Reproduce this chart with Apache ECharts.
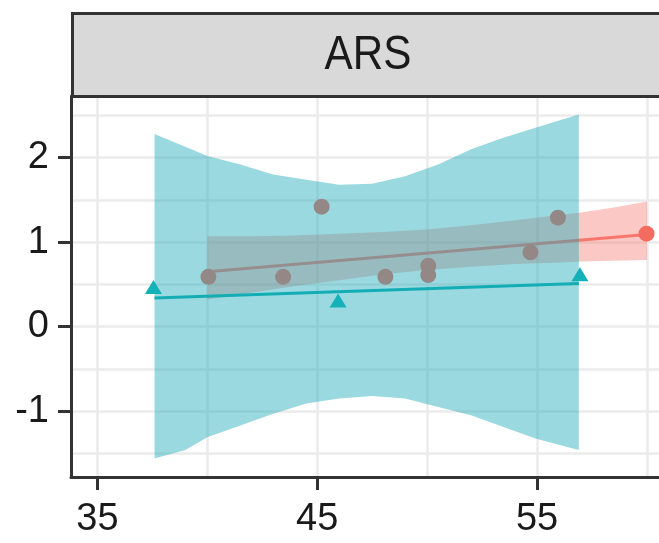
<!DOCTYPE html>
<html>
<head>
<meta charset="utf-8">
<script src="https://cdn.jsdelivr.net/npm/echarts@6/dist/echarts.min.js"></script>
<style>html,body{margin:0;padding:0;background:#fff}#chart{width:659px;height:543px}</style>
</head>
<body>
<div id="chart"></div>
<script>
// ---- data ----
const panelTitle = 'ARS';
const xTickLabels = [35, 45, 55];
const yTickLabels = [-1, 0, 1, 2];
const xGridLines = [35, 40, 45, 50, 55, 60];
const yGridLines = [-1.5, -1, -0.5, 0, 0.5, 1, 1.5, 2, 2.5];

// red group (circles)
const redPoints = [[40.05,0.59],[43.45,0.59],[45.2,1.42],[48.1,0.59],[50.05,0.61],[50.05,0.72],[54.7,0.88],[55.95,1.29],[59.98,1.10]];
const redLine = [[40.0,0.65],[60.0,1.09]];
const redBandX =     [40,   42,   44,   46,   48,   50,   52,   54,   56,   57,   58.5, 60];
const redBandUpper = [1.07, 1.07, 1.08, 1.10, 1.12, 1.15, 1.20, 1.26, 1.32, 1.35, 1.41, 1.48];
const redBandLower = [0.32, 0.40, 0.48, 0.55, 0.62, 0.67, 0.71, 0.74, 0.76, 0.77, 0.78, 0.79];

// teal group (triangles)
const tealPoints = [[37.55,0.47],[45.95,0.31],[56.95,0.62]];
const tealLine = [[37.6,0.34],[56.9,0.51]];
const tealBandX =     [37.6, 39,   40,   41.5, 43,   44.5, 46,   47.5, 49,   50.5, 52,   53.5, 55,   56.9];
const tealBandUpper = [2.28, 2.13, 2.02, 1.92, 1.80, 1.74, 1.68, 1.69, 1.78, 1.92, 2.10, 2.24, 2.36, 2.51];
const tealBandLower = [-1.56,-1.46,-1.31,-1.17,-1.03,-0.91,-0.85,-0.82,-0.85,-0.95,-1.05,-1.19,-1.33,-1.46];

const FONT = "'Liberation Sans', Arial, sans-serif";

function bandSeries(xs, up, lo, fill, z) {
  return {
    type: 'custom', z: z, silent: true, clip: true,
    data: [[xs[0], up[0]]],
    renderItem: function (params, api) {
      const top = xs.map((x, i) => api.coord([x, up[i]]));
      const bot = xs.map((x, i) => api.coord([x, lo[i]])).reverse();
      return { type: 'polygon', shape: { points: top.concat(bot) }, style: { fill: fill } };
    }
  };
}

const chart = echarts.init(document.getElementById('chart'), null, { renderer: 'canvas' });
chart.setOption({
  animation: false,
  backgroundColor: '#ffffff',
  grid: { left: 71, top: 96, width: 594, height: 381, containLabel: false, outerBoundsMode: 'none' },
  xAxis: {
    type: 'value', min: 33.8, max: 60.82,
    axisLine: { onZero: false, lineStyle: { color: '#333333', width: 3 } },
    axisTick: { show: true, length: 13, customValues: xTickLabels, lineStyle: { color: '#333333', width: 3 } },
    axisLabel: { customValues: xTickLabels, fontSize: 38, fontFamily: FONT, color: '#1a1a1a', margin: 24 },
    splitLine: { show: false }
  },
  yAxis: {
    type: 'value', min: -1.78, max: 2.73,
    axisLine: { onZero: false, lineStyle: { color: '#333333', width: 3 } },
    axisTick: { show: true, length: 13, customValues: yTickLabels, lineStyle: { color: '#333333', width: 3 } },
    axisLabel: { customValues: yTickLabels, fontSize: 38, fontFamily: FONT, color: '#1a1a1a', margin: 22 },
    splitLine: { show: false }
  },
  graphic: [
    { type: 'rect', left: 71, top: 12, shape: { width: 640, height: 83 }, style: { fill: '#d9d9d9', stroke: '#333333', lineWidth: 3 }, z: 10 },
    { type: 'text', x: 368, y: 56, originX: 0, originY: 0, scaleX: 0.88, z: 11, style: { text: panelTitle, textAlign: 'center', textVerticalAlign: 'middle', fontSize: 48, fontFamily: FONT, fill: '#1a1a1a' } }
  ],
  series: [
    {
      type: 'line', data: [], z: 0, silent: true,
      markLine: {
        z: 0, silent: true, symbol: 'none', animation: false,
        label: { show: false },
        lineStyle: { color: '#ebebeb', width: 2.5, type: 'solid' },
        emphasis: { disabled: true },
        data: xGridLines.map(v => ({ xAxis: v })).concat(yGridLines.map(v => ({ yAxis: v })))
      }
    },
    bandSeries(redBandX, redBandUpper, redBandLower, 'rgba(248,118,109,0.4)', 2),
    { type: 'line', z: 3, data: redLine, symbol: 'none', silent: true, lineStyle: { color: '#F8766D', width: 3 } },
    { type: 'scatter', z: 4, data: redPoints, symbol: 'circle', symbolSize: 16, itemStyle: { color: '#F46C60', opacity: 1 }, silent: true },
    bandSeries(tealBandX, tealBandUpper, tealBandLower, 'rgba(30,170,185,0.45)', 5),
    { type: 'line', z: 6, data: tealLine, symbol: 'none', silent: true, lineStyle: { color: '#13adb5', width: 3 } },
    { type: 'scatter', z: 7, data: tealPoints, symbol: 'triangle', symbolSize: [17, 14], itemStyle: { color: '#14b1b9', opacity: 1 }, silent: true }
  ]
});
</script>
</body>
</html>
